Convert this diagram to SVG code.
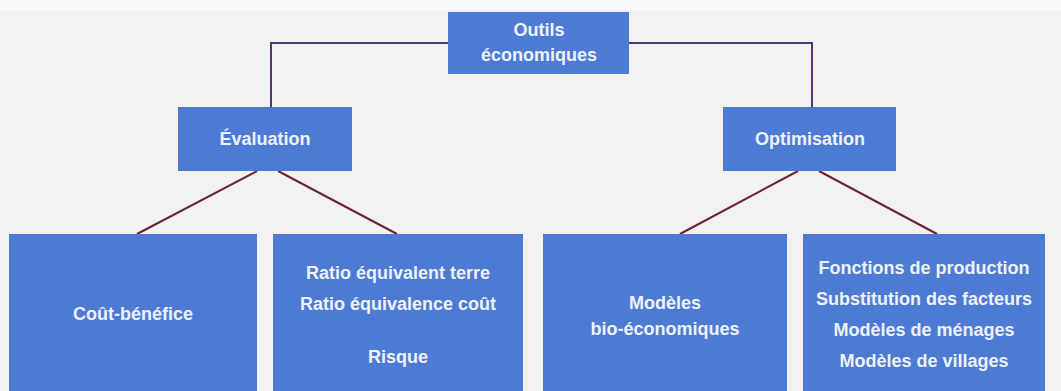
<svg xmlns="http://www.w3.org/2000/svg" width="1061" height="391" viewBox="0 0 1061 391">
<style>
.box{fill:#4d7bd4}
.t{font-family:"Liberation Sans",Arial,sans-serif;font-size:18px;font-weight:bold;fill:#eef2fa;text-anchor:middle}
.top{fill:none;stroke:#55327a;stroke-width:2}
.br{fill:none;stroke:#6a2236;stroke-width:2}
</style>
<rect width="1061" height="391" fill="#f2f2f3"/>
<rect width="1061" height="10" fill="#fafafa"/>
<g id="connectors">
<polyline class="top" points="448,43 271,43 271,107"/>
<polyline class="top" points="629,43 812,43 812,107"/>
<line class="br" x1="257" y1="171" x2="137" y2="234"/>
<line class="br" x1="278" y1="171" x2="397" y2="234"/>
<line class="br" x1="798" y1="171" x2="680" y2="234"/>
<line class="br" x1="819" y1="171" x2="937" y2="234"/>
</g>
<g id="outils">
<rect class="box" x="448" y="12" width="181" height="62"/>
<text class="t" x="539" y="36">Outils</text>
<text class="t" x="539" y="61">économiques</text>
</g>
<g id="evaluation">
<rect class="box" x="178" y="107" width="174" height="64"/>
<text class="t" x="265" y="145">Évaluation</text>
</g>
<g id="optimisation">
<rect class="box" x="723" y="107" width="173" height="64"/>
<text class="t" x="810" y="145">Optimisation</text>
</g>
<g id="cout-benefice">
<rect class="box" x="9" y="234" width="248" height="157"/>
<text class="t" x="133" y="320">Coût-bénéfice</text>
</g>
<g id="ratios">
<rect class="box" x="273" y="234" width="250" height="157"/>
<text class="t" x="398" y="279">Ratio équivalent terre</text>
<text class="t" x="398" y="310">Ratio équivalence coût</text>
<text class="t" x="398" y="363">Risque</text>
</g>
<g id="modeles-bio">
<rect class="box" x="543" y="234" width="244" height="157"/>
<text class="t" x="665" y="309">Modèles</text>
<text class="t" x="665" y="335">bio-économiques</text>
</g>
<g id="fonctions">
<rect class="box" x="803" y="234" width="242" height="157"/>
<text class="t" x="924" y="274">Fonctions de production</text>
<text class="t" x="924" y="305">Substitution des facteurs</text>
<text class="t" x="924" y="336">Modèles de ménages</text>
<text class="t" x="924" y="367">Modèles de villages</text>
</g>
</svg>
